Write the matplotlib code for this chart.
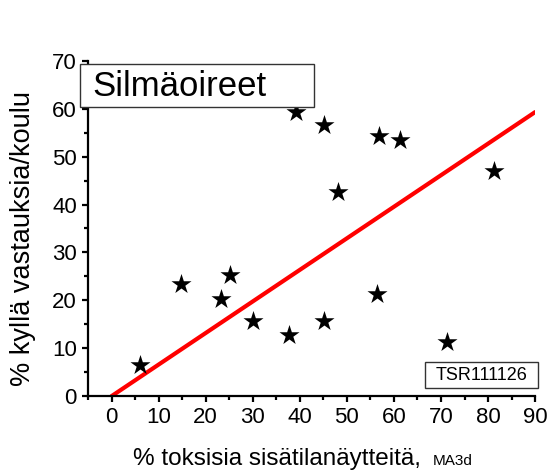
import numpy as np
import matplotlib
matplotlib.use("Agg")
import matplotlib.pyplot as plt
import matplotlib.ticker as ticker
from matplotlib.patches import Rectangle

plt.rcParams['font.family'] = ['Liberation Sans', 'DejaVu Sans']

# toxic indoor samples (%) vs. "yes" answers per school (%)
toksisia = [6.0, 14.7, 23.2, 25.2, 30.1, 37.6, 45.2, 39.2, 45.2, 56.8, 61.2, 48.2, 81.2, 56.4, 71.3]
kylla = [6.6, 23.4, 20.3, 25.3, 15.7, 12.7, 15.7, 59.4, 56.6, 54.3, 53.4, 42.6, 47.0, 21.4, 11.3]

# fitted line
fit_x = [0, 90]
fit_y = [0, 59.3]

TITLE = "Silmäoireet"
TAG = "TSR111126"

fig = plt.figure(figsize=(5.5, 4.75), dpi=100)
ax = fig.add_axes([0.16, 0.166, 0.813, 0.706])

ax.plot(fit_x, fit_y, color='#ff0000', linewidth=3, solid_capstyle='round', zorder=2)
ax.scatter(toksisia, kylla, marker='*', s=230, color='black', linewidths=0, zorder=3)

ax.set_xlim(-5, 90)
ax.set_ylim(0, 70)
ax.xaxis.set_major_locator(ticker.MultipleLocator(10))
ax.xaxis.set_minor_locator(ticker.MultipleLocator(5))
ax.yaxis.set_major_locator(ticker.MultipleLocator(10))
ax.yaxis.set_minor_locator(ticker.MultipleLocator(5))
ax.xaxis.set_major_formatter(ticker.FuncFormatter(lambda v, p: f"{v:.0f}" if v >= 0 else ""))

for side in ['top', 'right']:
    ax.spines[side].set_visible(False)
for side in ['left', 'bottom']:
    ax.spines[side].set_linewidth(1.6)
ax.spines['left'].set_zorder(1)

ax.tick_params(axis='both', which='major', direction='out', length=4, width=1.6,
               labelsize=16, pad=4)
ax.tick_params(axis='both', which='minor', direction='out', length=3, width=1.6)

# axis titles; the x title has a smaller method suffix
fig.text(421 / 550, 1 - 465 / 475, "% toksisia sisätilanäytteitä,", fontsize=17.5,
         ha='right', va='baseline')
fig.text(433 / 550, 1 - 465 / 475, "MA3d", fontsize=11, ha='left', va='baseline')
fig.text(23 / 550, 1 - 238 / 475, "% kyllä vastauksia/koulu", fontsize=19.5,
         rotation=90, ha='center', va='center')

# title box drawn over the y axis
fig.add_artist(Rectangle((80 / 550, 1 - 107 / 475), 234 / 550, 43 / 475,
                         transform=fig.transFigure, facecolor='white',
                         edgecolor='#333333', linewidth=1, zorder=5))
fig.text(92 / 550, 1 - 86 / 475, TITLE, fontsize=25, ha='left', va='center', zorder=6)

# tag box in the lower right corner
fig.add_artist(Rectangle((425 / 550, 1 - 388 / 475), 113 / 550, 26 / 475,
                         transform=fig.transFigure, facecolor='white',
                         edgecolor='#333333', linewidth=1, zorder=5))
fig.text(481.5 / 550, 1 - 375 / 475, TAG, fontsize=13, ha='center', va='center', zorder=6)

fig.savefig("out.png", dpi=100)
